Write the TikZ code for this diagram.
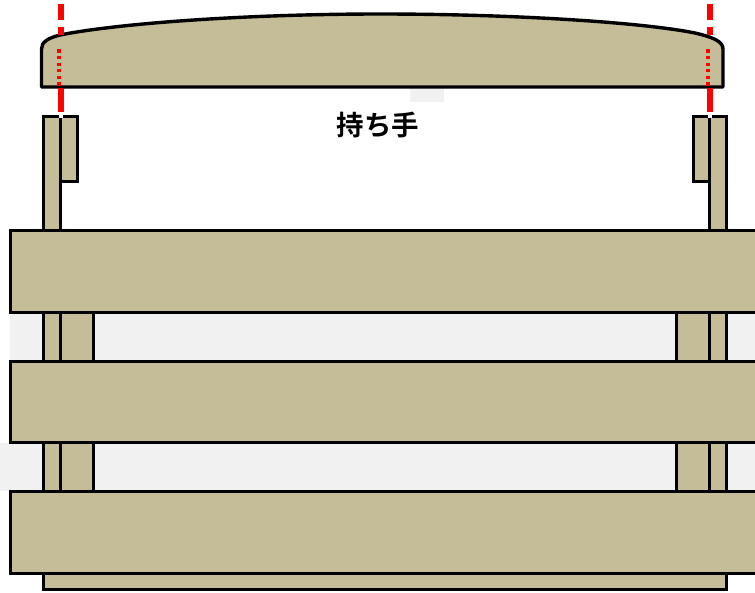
\documentclass[tikz,border=0pt]{standalone}
\usepackage{fontspec}
\newfontfamily\cjkfont{Noto Sans CJK JP}[BoldFont={Noto Sans CJK JP Bold}]
\definecolor{woodtan}{HTML}{C4BD97}
\definecolor{bandgray}{HTML}{F1F1F1}
\tikzset{
  wood/.style={draw=black,line width=3.4pt,fill=woodtan},
  band/.style={fill=bandgray},
  cutline/.style={draw=red,line width=6.4pt},
  cutdots/.style={draw=red,line width=3.3pt,dash pattern=on 3.3pt off 3.3pt}
}
\begin{document}
\begin{tikzpicture}[x=1pt,y=-1pt]
  \useasboundingbox (0,0) rectangle (755,592);
  % gray bands behind the slats
  \fill[band] (410,88) rectangle (444,102);
  \fill[band] (10,313) rectangle (755,361);
  \fill[band] (0,443) rectangle (755,491);
  % back bar and posts
  \draw[wood] (43.7,570) rectangle (726.5,589.5);
  \draw[wood] (43.7,116.5) rectangle (60.5,500);
  \draw[wood] (709.5,116.5) rectangle (726.5,500);
  \draw[wood] (60.5,116.5) rectangle (77.5,181.5);
  \draw[wood] (693.5,116.5) rectangle (709.5,181.5);
  \foreach \y in {300,430}{
    \draw[wood] (60.5,\y) rectangle (93.5,\y+70);
    \draw[wood] (676.5,\y) rectangle (709.5,\y+70);
  }
  % gaps at the top of the posts
  \fill[white] (58.5,114.5) rectangle (62.5,117.5);
  \fill[white] (707.5,114.5) rectangle (711.5,117.5);
  % slats
  \draw[wood] (10.5,230.5) rectangle (760,312.5);
  \draw[wood] (10.5,361.5) rectangle (760,442.5);
  \draw[wood] (10.5,491.5) rectangle (760,573.5);
  % handle
  \draw[wood,line join=round] (41.5,87) -- (41.5,49) .. controls (41.5,42) and (48,38) .. (60,35)
    .. controls (120,23) and (250,14) .. (380,14)
    .. controls (510,14) and (640,22) .. (695,33)
    .. controls (712,37) and (723,41) .. (723,49) -- (723,87) -- cycle;
  \node (handlelabel) at (378,125) {\cjkfont\fontsize{27.5}{28}\selectfont\bfseries 持ち手};
  % cut lines
  \foreach \x/\d in {61/59,710/708}{
    \draw[cutline] (\x,4) -- (\x,20);
    \draw[cutline] (\x,27) -- (\x,35);
    \draw[cutline] (\x,88) -- (\x,112);
    \draw[cutdots] (\d,49.3) -- (\d,88);
  }
\end{tikzpicture}
\end{document}
